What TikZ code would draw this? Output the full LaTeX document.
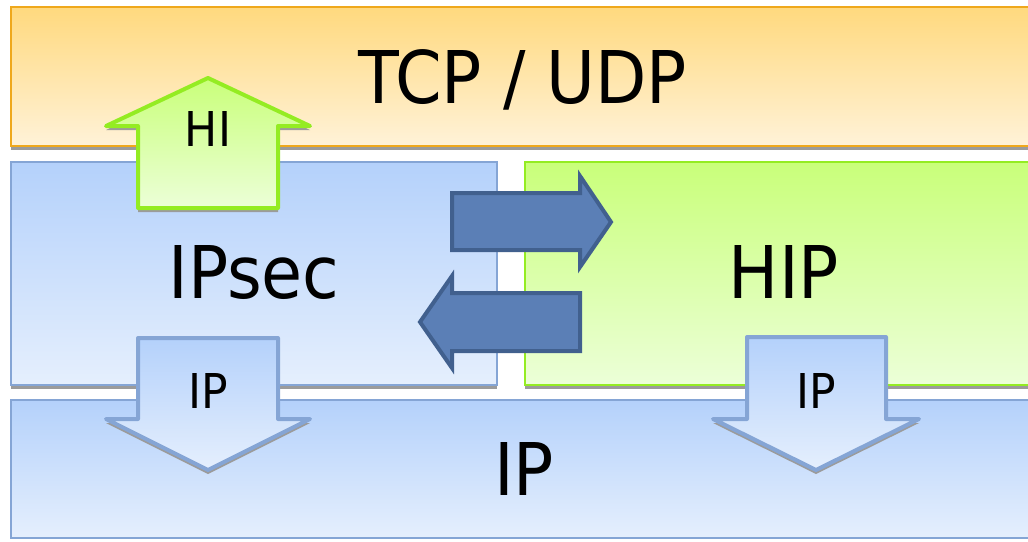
\documentclass[tikz,border=0pt]{standalone}
\usepackage{fontspec}
\setmainfont[FakeStretch=1.02]{DejaVu Sans Condensed}
\definecolor{shadowgrey}{HTML}{9B9B9B}
\definecolor{orangetop}{HTML}{FFD97E}
\definecolor{orangebot}{HTML}{FFF2D8}
\definecolor{orangeline}{HTML}{EFA81C}
\definecolor{bluetop}{HTML}{B4D1FB}
\definecolor{bluebot}{HTML}{E5EFFD}
\definecolor{blueline}{HTML}{85A5D5}
\definecolor{greentop}{HTML}{C9FF7A}
\definecolor{greenbot}{HTML}{ECFFD8}
\definecolor{greenline}{HTML}{94EC22}
\definecolor{navyfill}{HTML}{5B7FB6}
\definecolor{navyline}{HTML}{41608E}
\begin{document}
\begin{tikzpicture}[x=1pt,y=-1pt,
  shadowfill/.style={fill=shadowgrey},
  orangeband/.style={draw=orangeline,line width=2pt,top color=orangetop,bottom color=orangebot},
  blueband/.style={draw=blueline,line width=2pt,top color=bluetop,bottom color=bluebot},
  greenband/.style={draw=greenline,line width=2pt,top color=greentop,bottom color=greenbot},
  hiarrow/.style={draw=greenline,line width=4pt,line join=round,top color=greentop,bottom color=greenbot},
  iparrow/.style={draw=blueline,line width=4pt,line join=round,top color=bluetop,bottom color=bluebot},
  swaparrow/.style={draw=navyline,line width=4pt,fill=navyfill},
  biglabel/.style={anchor=base,inner sep=0pt,font=\fontsize{72.7}{80}\selectfont},
  smalllabel/.style={anchor=base,inner sep=0pt,font=\fontsize{48}{54}\selectfont}]
\useasboundingbox (0,0) rectangle (1028,541);
\clip (0,0) rectangle (1028,541);
\fill[white] (0,0) rectangle (1028,541);

% layer shadows
\fill[shadowfill] (11,11) rectangle (1040,150);
\fill[shadowfill] (11,166) rectangle (497,389);
\fill[shadowfill] (525,166) rectangle (1040,389);

% protocol layers
\draw[orangeband] (11,7) rectangle (1040,146);
\draw[blueband] (11,162) rectangle (497,385);
\draw[greenband] (525,162) rectangle (1040,385);
\draw[blueband] (11,400) rectangle (1040,538);

\node[biglabel] (tcpudp) at (523,103) {TCP / UDP};
\node[biglabel] (ipsec) at (254,298) {IPsec};
\node[biglabel] (hip) at (784,298) {HIP};
\node[biglabel] (ip) at (524,495) {IP};

% up arrow: host identity handed to the transport layer
\fill[shadowfill] (208,82) -- (310,130) -- (278,130) -- (278,212) -- (138,212) -- (138,130) -- (106,130) -- cycle;
\draw[hiarrow] (208,78) -- (310,126) -- (278,126) -- (278,208) -- (138,208) -- (138,126) -- (106,126) -- cycle;
\node[smalllabel] (hi) at (208,146) {HI};

% down arrows: IP handed to the network layer
\fill[shadowfill] (138,342) -- (278,342) -- (278,423) -- (310,423) -- (208,474) -- (106,423) -- (138,423) -- cycle;
\draw[iparrow] (138,338) -- (278,338) -- (278,419) -- (310,419) -- (208,470) -- (106,419) -- (138,419) -- cycle;
\node[smalllabel] (ipleft) at (208,408) {IP};

\fill[shadowfill] (747,341) -- (886,341) -- (886,423) -- (919,423) -- (816,474) -- (713,423) -- (747,423) -- cycle;
\draw[iparrow] (747,337) -- (886,337) -- (886,419) -- (919,419) -- (816,470) -- (713,419) -- (747,419) -- cycle;
\node[smalllabel] (ipright) at (816,408) {IP};

% exchange between IPsec and HIP
\draw[swaparrow] (452,193) -- (580,193) -- (580,176) -- (611,222) -- (580,267) -- (580,250) -- (452,250) -- cycle;
\draw[swaparrow] (580,293) -- (452,293) -- (452,276) -- (420,322) -- (452,368) -- (452,351) -- (580,351) -- cycle;
\end{tikzpicture}
\end{document}
